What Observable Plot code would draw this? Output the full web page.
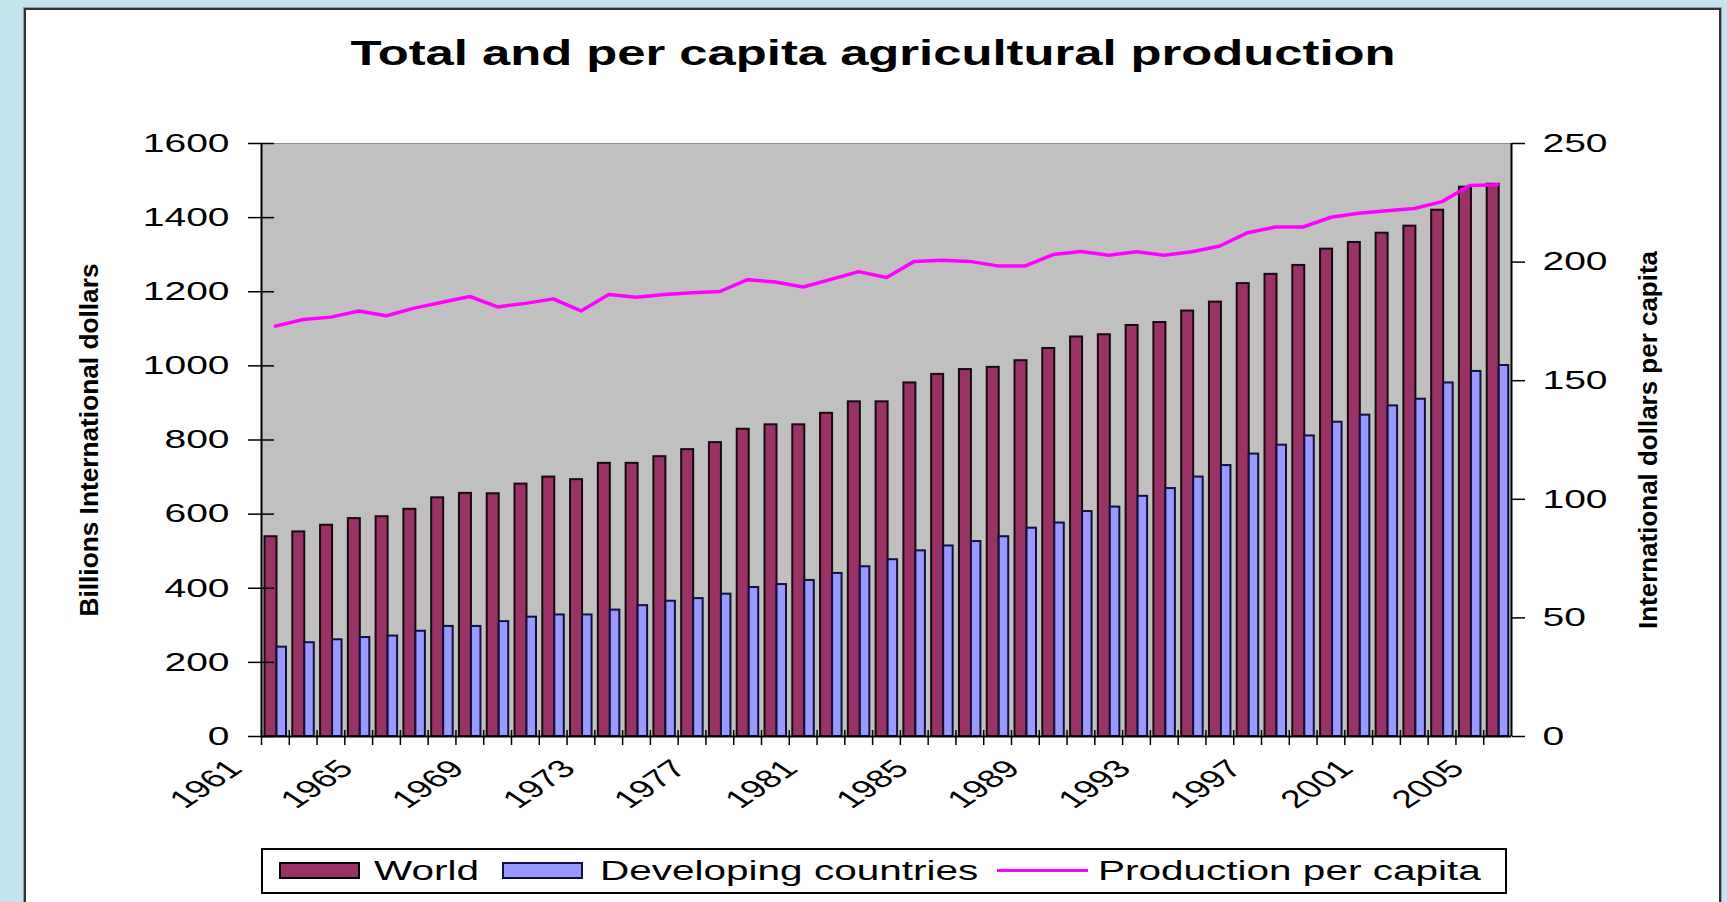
<!DOCTYPE html>
<html><head><meta charset="utf-8">
<script src="https://cdn.jsdelivr.net/npm/d3@7"></script>
<script src="https://cdn.jsdelivr.net/npm/@observablehq/plot@0.6"></script>
<style>
html,body{margin:0;padding:0;width:1727px;height:902px;overflow:hidden;background:#c5e4ee;font-family:"Liberation Sans",Arial,sans-serif;}
#panel{position:absolute;left:24px;top:8px;width:1697px;height:940px;background:#fff;border:2px solid #333;box-sizing:border-box;box-shadow:0 0 0 1px #999;}
#title{position:absolute;left:873px;top:35px;font-size:35px;font-weight:bold;line-height:1;white-space:nowrap;color:#000;transform:translateX(-50%) scaleX(1.45);}
#chart{position:absolute;left:0;top:100px;}
#legend{position:absolute;left:261px;top:848px;width:1246px;height:46px;box-sizing:border-box;border:2px solid #000;background:#fff;}
#legend .sw{position:absolute;top:12px;width:81px;height:17px;box-sizing:border-box;border:2px solid #000;}
#legend .tx{position:absolute;top:0;height:42px;line-height:42px;font-size:27px;white-space:nowrap;transform:scaleX(1.5);transform-origin:left center;color:#000;}
#legend .ln{position:absolute;top:19px;width:91px;height:3px;background:#ff00ff;}
</style></head><body>
<div id="panel"></div>
<div id="title">Total and per capita agricultural production</div>
<div id="chart"></div>
<div id="legend">
  <div class="sw" style="left:16px;background:#993366"></div>
  <div class="tx" style="left:111px">World</div>
  <div class="sw" style="left:239px;background:#9999ff;border-color:#101040"></div>
  <div class="tx" style="left:337px">Developing countries</div>
  <div class="ln" style="left:734px"></div>
  <div class="tx" style="left:835px">Production per capita</div>
</div>
<script>
// ---- data ----
const years = [1961,1962,1963,1964,1965,1966,1967,1968,1969,1970,1971,1972,1973,1974,1975,1976,1977,1978,1979,1980,1981,1982,1983,1984,1985,1986,1987,1988,1989,1990,1991,1992,1993,1994,1995,1996,1997,1998,1999,2000,2001,2002,2003,2004,2005];
const world = [539,552,570,588,593,613,644,656,655,681,700,693,737,737,755,774,793,829,841,841,872,903,903,954,977,990,996,1014,1047,1078,1084,1109,1117,1148,1172,1222,1247,1271,1315,1333,1358,1377,1420,1482,1490];
const developing = [241,253,261,267,271,284,297,297,310,322,328,328,341,353,365,372,384,402,410,421,440,458,477,501,514,526,539,562,576,607,619,648,669,700,731,762,786,811,848,867,892,910,954,985,1001];
const perCapita = [173.0,175.8,176.8,179.4,177.4,180.6,183.1,185.5,181.1,182.6,184.5,179.4,186.3,185.2,186.3,187.1,187.6,192.6,191.6,189.5,192.7,196.0,193.5,200.3,200.8,200.3,198.4,198.4,203.2,204.5,202.9,204.4,202.9,204.4,206.8,212.4,214.8,214.8,218.9,220.6,221.6,222.6,225.5,232.3,232.6];
const xTickLabels = [1961,1965,1969,1973,1977,1981,1985,1989,1993,1997,2001,2005];
const leftTicks = [0,200,400,600,800,1000,1200,1400,1600];
const rightTicks = [0,50,100,150,200,250];

// ---- layout ----
const W = 1727, H = 730, ML = 261, MR = 216, MT = 43, MB = 94;
const bw = (W - ML - MR) / years.length;
const SX = 1.5;
const K = 1600 / 250;
const rows = years.map((y, i) => ({year: y, world: world[i], dev: developing[i], pc: perCapita[i]}));

const svg = Plot.plot({
  width: W, height: H, marginLeft: ML, marginRight: MR, marginTop: MT, marginBottom: MB,
  style: {background: "transparent", fontFamily: "'Liberation Sans', Arial, sans-serif", overflow: "visible", color: "#000"},
  x: {type: "band", domain: years, paddingInner: 0, paddingOuter: 0},
  y: {domain: [0, 1600]},
  marks: [
    Plot.frame({fill: "#c0c0c0", stroke: "#8c8c8c"}),
    Plot.barY(rows, {x: "year", y: "world", fill: "#993366", stroke: "#1a0a10", strokeWidth: 2, insetLeft: 3.5, insetRight: bw - 15.5}),
    Plot.barY(rows, {x: "year", y: "dev", fill: "#9999ff", stroke: "#101040", strokeWidth: 2, insetLeft: 15.5, insetRight: bw - 25}),
    Plot.lineY(rows, {x: "year", y: d => d.pc * K, stroke: "#ff00ff", strokeWidth: 3.5}),
    Plot.ruleY([0], {stroke: "black", strokeWidth: 2}),
    Plot.ruleX([years[0]], {dx: -bw / 2, stroke: "black", strokeWidth: 2}),
    Plot.ruleX([years[years.length - 1]], {dx: bw / 2, stroke: "black", strokeWidth: 2}),
    Plot.axisY({anchor: "left", ticks: leftTicks, tickSize: 26, dx: 13, tickFormat: () => "", label: null, stroke: "black", strokeWidth: 1.5}),
    Plot.axisY({anchor: "left", ticks: leftTicks, tickSize: 0, tickPadding: 32, tickFormat: d => String(d), fontSize: 26, label: null, fill: "black"}),
    Plot.axisY({anchor: "right", ticks: rightTicks.map(v => v * K), tickFormat: d => String(Math.round(d / K)), tickSize: 13, tickPadding: 18, fontSize: 26, label: null, stroke: "black", strokeWidth: 1.5, fill: "black"}),
    Plot.axisX({ticks: years, tickSize: 15, dy: -6, dx: -bw / 2, tickFormat: () => "", label: null, stroke: "black", strokeWidth: 1.5}),
    Plot.text(xTickLabels, {x: d => d, text: d => String(d), frameAnchor: "bottom", rotate: -45, textAnchor: "end", lineAnchor: "middle", dx: -40, dy: 28, fontSize: 25, fill: "black"}),
    Plot.text(["Billions International dollars"], {frameAnchor: "left", dx: -172, rotate: -90, fontSize: 25, fontWeight: "bold", textAnchor: "middle", lineAnchor: "middle", fill: "black"}),
    Plot.text(["International dollars per capita"], {frameAnchor: "right", dx: 137, rotate: -90, fontSize: 25, fontWeight: "bold", textAnchor: "middle", lineAnchor: "middle", fill: "black"})
  ]
});
document.getElementById("chart").appendChild(svg);

// horizontally stretch text like the reference (rotated axis titles are condensed instead)
svg.querySelectorAll("text").forEach(t => {
  const tr = t.getAttribute("transform") || "";
  if (/rotate\(-90\)/.test(tr)) {
    const len = t.textContent.startsWith("Billions") ? 353 : 378;
    t.setAttribute("textLength", len);
    t.setAttribute("lengthAdjust", "spacingAndGlyphs");
    return;
  }
  if (tr.startsWith("translate(")) {
    t.setAttribute("transform", tr.replace(/^(translate\([^)]*\))/, `$1 scale(${SX},1)`));
  } else {
    const x = parseFloat(t.getAttribute("x")) || 0, y = parseFloat(t.getAttribute("y")) || 0;
    t.setAttribute("transform", `translate(${x},${y}) scale(${SX},1)`);
    t.removeAttribute("x"); t.removeAttribute("y");
  }
});
</script>
</body></html>
